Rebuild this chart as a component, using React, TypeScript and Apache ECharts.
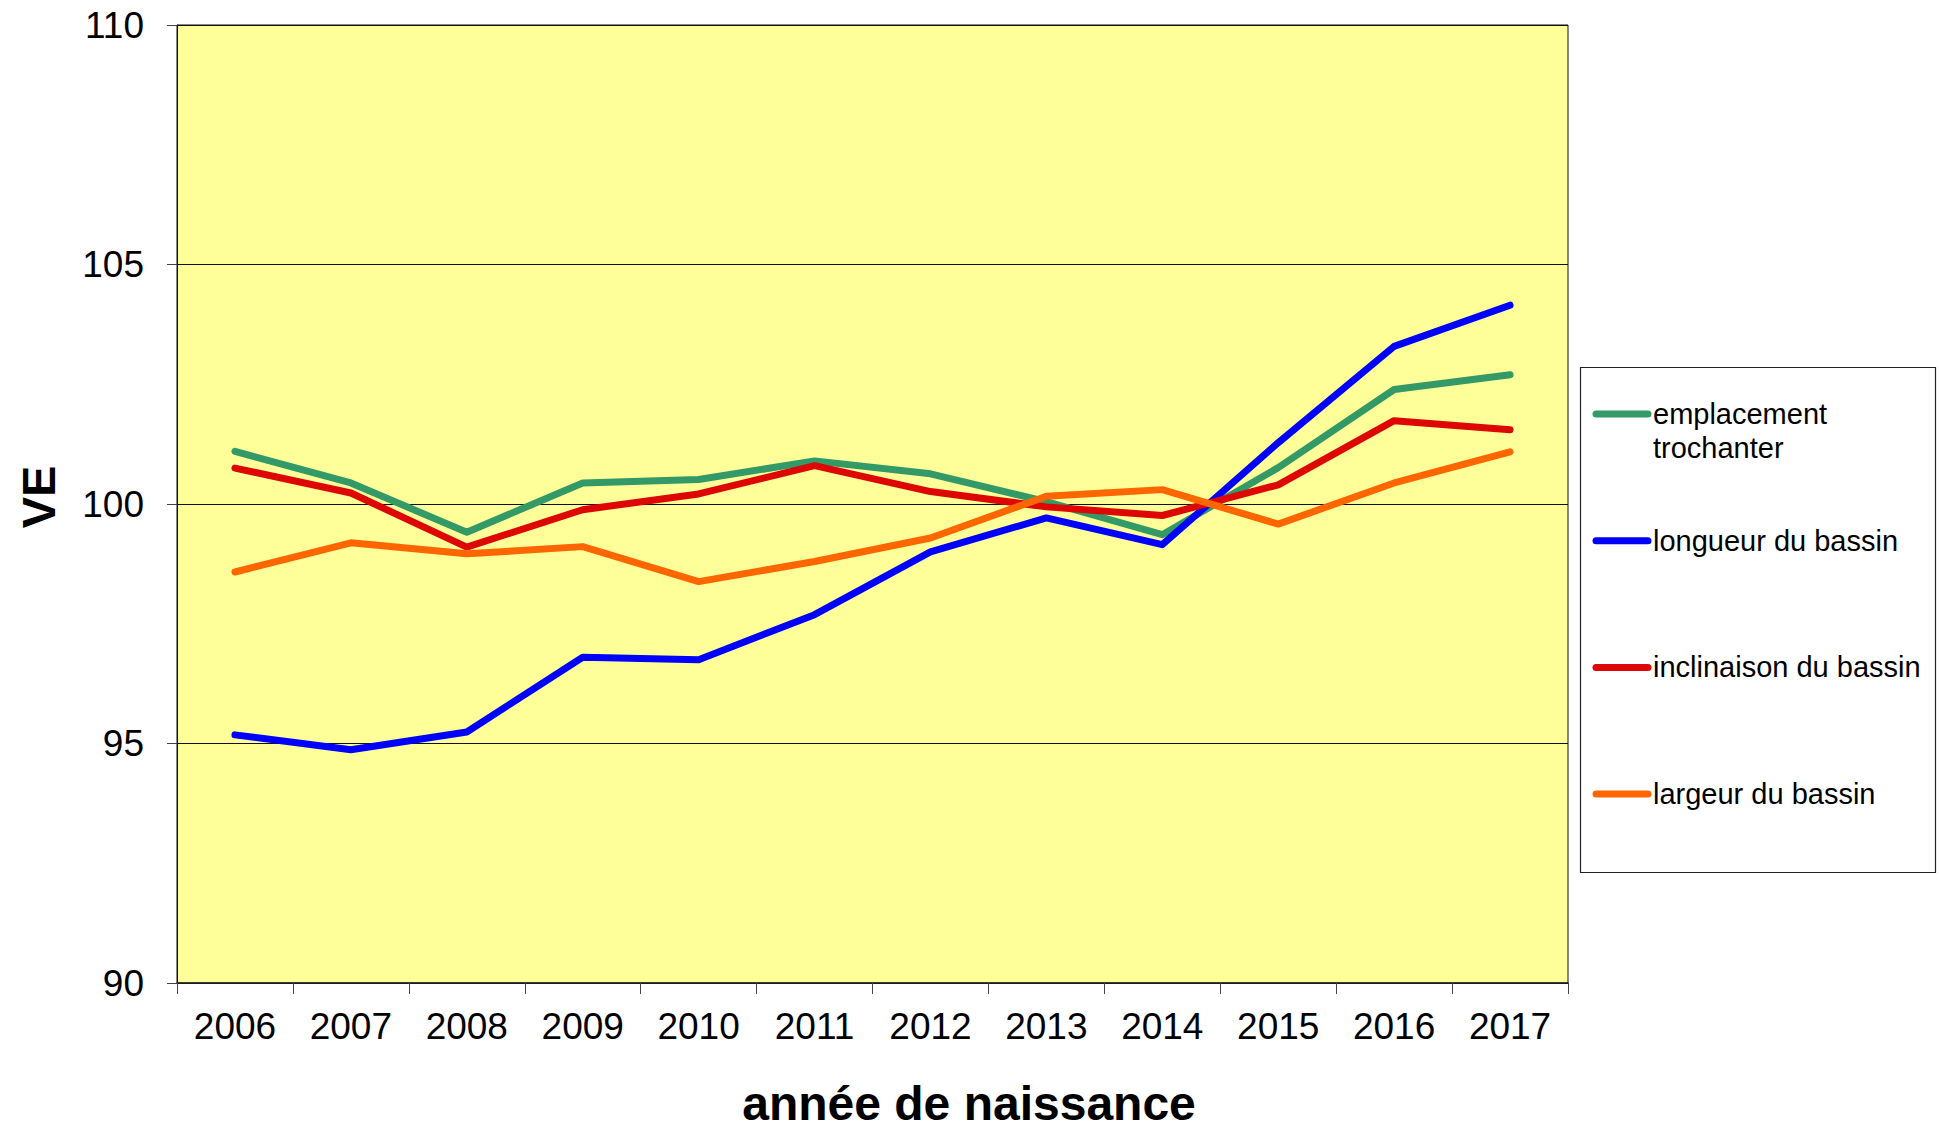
import React, { useEffect, useRef } from 'react';
import * as echarts from 'echarts';

const years = ['2006', '2007', '2008', '2009', '2010', '2011', '2012', '2013', '2014', '2015', '2016', '2017'];
const seriesNames = ['emplacement trochanter', 'longueur du bassin', 'inclinaison du bassin', 'largeur du bassin'];
const legendLabels = ['emplacement\ntrochanter', 'longueur du bassin', 'inclinaison du bassin', 'largeur du bassin'];
const colors = ['#339966', '#0000FF', '#DD0806', '#FF6600'];

const emplacement = [101.10, 100.44, 99.41, 100.44, 100.51, 100.90, 100.63, 100.05, 99.36, 100.76, 102.39, 102.70];
const longueur = [95.18, 94.87, 95.24, 96.80, 96.75, 97.69, 99.00, 99.71, 99.15, 101.28, 103.29, 104.15];
const inclinaison = [100.75, 100.23, 99.10, 99.88, 100.21, 100.80, 100.26, 99.94, 99.76, 100.40, 101.74, 101.55];
const largeur = [98.58, 99.19, 98.96, 99.11, 98.38, 98.80, 99.29, 100.16, 100.30, 99.58, 100.44, 101.09];
const seriesValues = [emplacement, longueur, inclinaison, largeur];

const yMin = 90;
const yMax = 110;
const yStep = 5;

const xTitle = 'année de naissance';
const yTitle = 'VE';

const FONT = '"Liberation Sans", Arial, Helvetica, sans-serif';

export default function App() {
  const ref = useRef<HTMLDivElement>(null);

  useEffect(() => {
    if (!ref.current) return;
    const chart = echarts.init(ref.current, undefined, { renderer: 'svg' });

    const legendX = 1580;
    const legendY = 367;
    const legendW = 355;
    const legendH = 505;
    const firstItemY = 414;
    const itemStep = 126.7;

    const legendGraphics: any[] = [
      {
        type: 'rect',
        shape: { x: legendX + 0.5, y: legendY + 0.5, width: legendW, height: legendH },
        style: { fill: '#ffffff', stroke: '#222222', lineWidth: 1.2 },
        silent: true,
      },
    ];
    legendLabels.forEach((label, i) => {
      const cy = firstItemY + i * itemStep;
      legendGraphics.push({
        type: 'line',
        shape: { x1: 1596, y1: cy, x2: 1648, y2: cy },
        style: { stroke: colors[i], lineWidth: 7, lineCap: 'round' },
        silent: true,
      });
      legendGraphics.push({
        type: 'text',
        x: 1653,
        y: cy - 17,
        style: {
          text: label,
          font: `29px ${FONT}`,
          fill: '#000000',
          lineHeight: 34,
          align: 'left',
          verticalAlign: 'top',
        },
        silent: true,
      });
    });

    const option: any = {
      animation: false,
      backgroundColor: '#ffffff',
      textStyle: { fontFamily: FONT },
      grid: {
        left: 177,
        right: 371,
        top: 25,
        bottom: 145,
        show: true,
        backgroundColor: '#FFFF99',
        borderColor: '#111111',
        borderWidth: 1,
        containLabel: false,
      },
      xAxis: {
        type: 'category',
        data: years,
        boundaryGap: true,
        axisLine: { show: true, lineStyle: { color: '#222222', width: 1.5 } },
        axisTick: { show: true, interval: 0, length: 11, inside: false, alignWithLabel: false, lineStyle: { color: '#444444', width: 1 } },
        axisLabel: { show: true, interval: 0, margin: 25, fontSize: 37, color: '#000000', fontFamily: FONT },
        splitLine: { show: false },
      },
      yAxis: {
        type: 'value',
        min: yMin,
        max: yMax,
        interval: yStep,
        axisLine: { show: true, lineStyle: { color: '#111111', width: 1 } },
        axisTick: { show: true, length: 10, inside: false, lineStyle: { color: '#444444', width: 1 } },
        axisLabel: { show: true, margin: 33, fontSize: 37, color: '#000000', fontFamily: FONT },
        splitLine: { show: true, lineStyle: { color: '#111111', width: 1 } },
      },
      series: seriesNames.map((name, i) => ({
        name,
        type: 'line',
        data: seriesValues[i],
        showSymbol: false,
        symbol: 'none',
        lineStyle: { color: colors[i], width: 7, cap: 'round', join: 'round' },
        itemStyle: { color: colors[i] },
        z: 2 + i,
      })),
      graphic: [
        {
          type: 'text',
          x: 969,
          y: 1103,
          style: {
            text: xTitle,
            font: `bold 48px ${FONT}`,
            fill: '#000000',
            align: 'center',
            verticalAlign: 'middle',
          },
          silent: true,
        },
        {
          type: 'text',
          x: 38,
          y: 497,
          rotation: Math.PI / 2,
          style: {
            text: yTitle,
            font: `bold 47px ${FONT}`,
            fill: '#000000',
            align: 'center',
            verticalAlign: 'middle',
          },
          silent: true,
        },
        ...legendGraphics,
      ],
    };

    chart.setOption(option);
    return () => {
      chart.dispose();
    };
  }, []);

  return (
    <div
      ref={ref}
      style={{ position: 'fixed', left: 0, top: 0, width: 1939, height: 1128, background: '#ffffff' }}
    />
  );
}
